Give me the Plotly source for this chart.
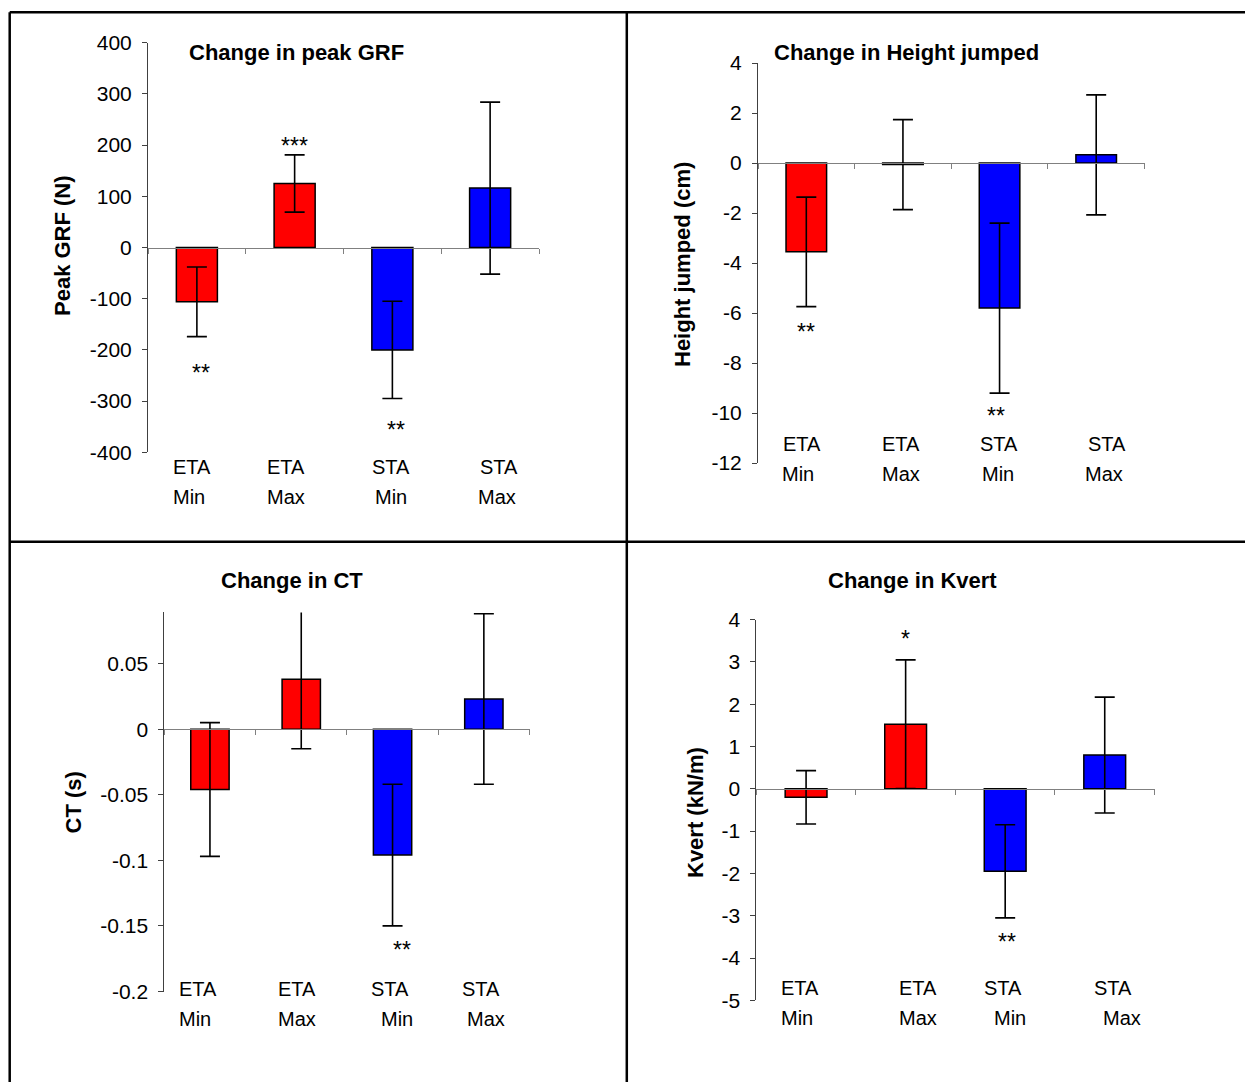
import plotly.graph_objects as go

# ---------------- data ----------------
categories = ["ETA Min", "ETA Max", "STA Min", "STA Max"]
cat_top = ["ETA", "ETA", "STA", "STA"]
cat_bottom = ["Min", "Max", "Min", "Max"]

grf_title = "Change in peak GRF"
grf_ylabel = "Peak GRF (N)"
grf_mean = [-106, 125, -200, 116]
grf_err = [68, 56, 95, 168]
grf_sig = ["**", "***", "**", ""]
grf_ticks = [400, 300, 200, 100, 0, -100, -200, -300, -400]

height_title = "Change in Height jumped"
height_ylabel = "Height jumped (cm)"
height_mean = [-3.55, -0.06, -5.8, 0.33]
height_err = [2.19, 1.8, 3.4, 2.4]
height_sig = ["**", "", "**", ""]
height_ticks = [4, 2, 0, -2, -4, -6, -8, -10, -12]

ct_title = "Change in CT"
ct_ylabel = "CT (s)"
ct_mean = [-0.046, 0.038, -0.096, 0.023]
ct_err = [0.051, 0.053, 0.054, 0.065]
ct_sig = ["", "", "**", ""]
ct_ticks = [0.05, 0, -0.05, -0.1, -0.15, -0.2]

kvert_title = "Change in Kvert"
kvert_ylabel = "Kvert (kN/m)"
kvert_mean = [-0.2, 1.53, -1.95, 0.8]
kvert_err = [0.63, 1.52, 1.1, 1.37]
kvert_sig = ["", "*", "**", ""]
kvert_ticks = [4, 3, 2, 1, 0, -1, -2, -3, -4, -5]

bar_colors = ["#FF0000", "#FF0000", "#0000FF", "#0000FF"]

# ---------------- layout styles (pixels) ----------------
W, H = 1245, 1082
FONT = "Arial, 'Liberation Sans', sans-serif"

panels = [
    dict(title=grf_title, ylabel=grf_ylabel, mean=grf_mean, err=grf_err, sig=grf_sig,
         ticks=grf_ticks, yrange=(-400, 400),
         xpx=(148, 539), ypx=(42.7, 452.3), title_xy=(296.5, 52.5), ylab_xy=(62, 246),
         lab_dy=(15, 45), dx1=[-5, -9, -1, 9], dx2=[-8, -9, -1, 7],
         sig_dx=[4, 0, 4, 0], sig_dy=[-36, 9, -31, 0]),
    dict(title=height_title, ylabel=height_ylabel, mean=height_mean, err=height_err, sig=height_sig,
         ticks=height_ticks, yrange=(-12, 4),
         xpx=(758, 1144.5), ypx=(63.1, 463.1), title_xy=(906, 53), ylab_xy=(682, 265),
         lab_dy=(-19, 11), dx1=[-4, -1.5, -1, 10.5], dx2=[-8, -1.5, -1.5, 7.5],
         sig_dx=[0, 0, -4, 0], sig_dy=[-25, 0, -23, 0]),
    dict(title=ct_title, ylabel=ct_ylabel, mean=ct_mean, err=ct_err, sig=ct_sig,
         ticks=ct_ticks, yrange=(-0.2, 0.089),
         xpx=(164.3, 529.5), ypx=(612.4, 991.5), title_xy=(291.5, 580), ylab_xy=(72.5, 803),
         lab_dy=(-3, 27), dx1=[-12, -4, -3, -2.5], dx2=[-15, -4, 4, 2.5],
         sig_dx=[0, 0, 9, 0], sig_dy=[0, 0, -24, 0]),
    dict(title=kvert_title, ylabel=kvert_ylabel, mean=kvert_mean, err=kvert_err, sig=kvert_sig,
         ticks=kvert_ticks, yrange=(-5, 4),
         xpx=(756.3, 1154.5), ypx=(619.7, 1000.3), title_xy=(913, 580), ylab_xy=(695, 812),
         lab_dy=(-12, 18), dx1=[-6, 12.5, -2.5, 8], dx2=[-9, 12.5, 5, 17],
         sig_dx=[0, 0, 2, 0], sig_dy=[0, 21, -24, 0]),
]


def fmt(v):
    return "%g" % v


fig = go.Figure()
annotations = []
layout_axes = {}
xpos = list(range(len(categories)))

for i, p in enumerate(panels, start=1):
    xa = "x" if i == 1 else f"x{i}"
    ya = "y" if i == 1 else f"y{i}"
    xkey = "xaxis" if i == 1 else f"xaxis{i}"
    ykey = "yaxis" if i == 1 else f"yaxis{i}"

    fig.add_trace(go.Bar(
        x=xpos, y=p["mean"], width=0.42,
        marker=dict(color=bar_colors, line=dict(color="black", width=1.5)),
        error_y=dict(type="data", array=p["err"], visible=True,
                     color="black", thickness=1.6, width=10),
        xaxis=xa, yaxis=ya, showlegend=False, hoverinfo="skip",
    ))

    x0, x1 = p["xpx"][0] / W, p["xpx"][1] / W
    y0, y1 = 1 - p["ypx"][1] / H, 1 - p["ypx"][0] / H
    lo, hi = p["yrange"]
    zero_pos = y0 + (0 - lo) / (hi - lo) * (y1 - y0)

    layout_axes[xkey] = dict(
        domain=[x0, x1], range=[-0.5, len(categories) - 0.5], anchor="free", position=zero_pos,
        showline=True, linecolor="#808080", linewidth=1,
        ticks="outside", ticklen=5, tickcolor="#808080", tickwidth=1,
        tickvals=[k - 0.5 for k in range(len(categories) + 1)],
        showticklabels=False, showgrid=False, zeroline=False, fixedrange=True,
        automargin=False,
    )
    layout_axes[ykey] = dict(
        domain=[y0, y1], range=[lo, hi], anchor=xa,
        showline=True, linecolor="#404040", linewidth=1,
        ticks="outside", ticklen=5, tickcolor="#404040", tickwidth=1,
        tickvals=p["ticks"], ticktext=[fmt(v) for v in p["ticks"]],
        tickfont=dict(family=FONT, size=21, color="black"), ticklabelstandoff=6,
        showgrid=False, zeroline=False, fixedrange=True, automargin=False,
    )

    # chart title
    annotations.append(dict(
        text=f"<b>{p['title']}</b>", xref="paper", yref="paper",
        x=p["title_xy"][0] / W, y=1 - p["title_xy"][1] / H,
        xanchor="center", yanchor="middle", showarrow=False,
        font=dict(family=FONT, size=22, color="black"),
    ))
    # y-axis title
    annotations.append(dict(
        text=f"<b>{p['ylabel']}</b>", xref="paper", yref="paper",
        x=p["ylab_xy"][0] / W, y=1 - p["ylab_xy"][1] / H, textangle=-90,
        xanchor="center", yanchor="middle", showarrow=False,
        font=dict(family=FONT, size=22, color="black"),
    ))
    # category labels (two lines)
    for j in range(len(categories)):
        annotations.append(dict(
            text=cat_top[j], xref=xa, yref=f"{ya} domain", x=xpos[j], y=0,
            xanchor="center", yanchor="middle", xshift=p["dx1"][j], yshift=-p["lab_dy"][0],
            showarrow=False, font=dict(family=FONT, size=20, color="black"),
        ))
        annotations.append(dict(
            text=cat_bottom[j], xref=xa, yref=f"{ya} domain", x=xpos[j], y=0,
            xanchor="center", yanchor="middle", xshift=p["dx2"][j], yshift=-p["lab_dy"][1],
            showarrow=False, font=dict(family=FONT, size=20, color="black"),
        ))
    # significance markers
    for j in range(len(categories)):
        if not p["sig"][j]:
            continue
        m, e = p["mean"][j], p["err"][j]
        end = m + e if m >= 0 else m - e
        annotations.append(dict(
            text=p["sig"][j], xref=xa, yref=ya, x=xpos[j], y=end,
            xanchor="center", yanchor="middle", xshift=p["sig_dx"][j], yshift=p["sig_dy"][j],
            showarrow=False, font=dict(family=FONT, size=23, color="black"),
        ))

# panel borders
bx0, by0 = 9.7, 12.2
mx, my = 626.8, 541.8
border = dict(color="black", width=2.5)
shapes = [
    dict(type="line", xref="paper", yref="paper", x0=bx0 / W, x1=bx0 / W, y0=1 - by0 / H, y1=0, line=border),
    dict(type="line", xref="paper", yref="paper", x0=bx0 / W, x1=1, y0=1 - by0 / H, y1=1 - by0 / H, line=border),
    dict(type="line", xref="paper", yref="paper", x0=mx / W, x1=mx / W, y0=1 - by0 / H, y1=0, line=border),
    dict(type="line", xref="paper", yref="paper", x0=bx0 / W, x1=1, y0=1 - my / H, y1=1 - my / H, line=border),
]

fig.update_layout(
    template="none",
    width=W, height=H, autosize=False,
    margin=dict(l=0, r=0, t=0, b=0, pad=0),
    paper_bgcolor="white", plot_bgcolor="white",
    font=dict(family=FONT, color="black"),
    annotations=annotations, shapes=shapes,
    showlegend=False,
    **layout_axes,
)

fig.write_html(
    "out.html",
    config={"displayModeBar": False},
    post_script="document.body.style.margin='0';document.body.style.padding='0';"
                "document.body.style.overflow='hidden';",
)
